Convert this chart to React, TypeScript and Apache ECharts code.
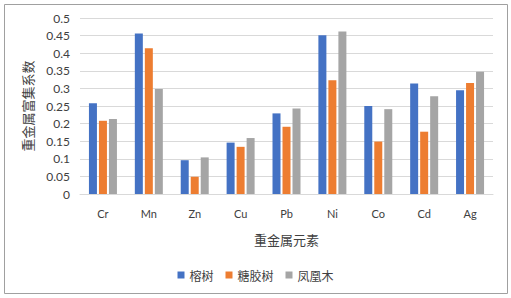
import React, { useEffect, useRef } from "react";
import * as echarts from "echarts";

const categories = ["Cr", "Mn", "Zn", "Cu", "Pb", "Ni", "Co", "Cd", "Ag"];
const seriesNames = ["榕树", "糖胶树", "凤凰木"];
const rongshu = [0.258, 0.456, 0.096, 0.146, 0.229, 0.451, 0.25, 0.314, 0.295];
const tangjiaoshu = [0.208, 0.414, 0.049, 0.134, 0.191, 0.323, 0.149, 0.177, 0.315];
const fenghuangmu = [0.213, 0.298, 0.104, 0.159, 0.243, 0.462, 0.241, 0.278, 0.347];
const colors = ["#4472C4", "#ED7D31", "#A5A5A5"];

export default function App() {
  const ref = useRef<HTMLDivElement>(null);
  useEffect(() => {
    if (!ref.current) return;
    const chart = echarts.init(ref.current, null, { renderer: "svg" });
    const data = [rongshu, tangjiaoshu, fenghuangmu];
    chart.setOption({
      animation: false,
      backgroundColor: "#ffffff",
      graphic: [
        {
          type: "rect",
          shape: { x: 4.5, y: 4.5, width: 503, height: 289 },
          style: { fill: "none", stroke: "#A0A0A0", lineWidth: 1 },
          silent: true,
        },
      ],
      grid: { left: 80, right: 18, top: 18, bottom: 104 },
      legend: {
        data: seriesNames,
        bottom: 12,
        left: "center",
        itemWidth: 7,
        itemHeight: 7,
        itemGap: 12,
        icon: "rect",
        textStyle: { fontFamily: "Noto Sans CJK SC", fontSize: 12, color: "#404040" },
      },
      xAxis: {
        type: "category",
        data: categories,
        name: "重金属元素",
        nameLocation: "middle",
        nameGap: 39,
        nameTextStyle: { fontFamily: "Noto Sans CJK SC", fontSize: 13, color: "#404040" },
        axisLine: { lineStyle: { color: "#D9D9D9" } },
        axisTick: { show: false },
        axisLabel: { margin: 14, fontFamily: "Lato", fontSize: 11, color: "#404040" },
      },
      yAxis: {
        type: "value",
        min: 0,
        max: 0.5,
        interval: 0.05,
        name: "重金属富集系数",
        nameLocation: "middle",
        nameRotate: 90,
        nameGap: 46,
        nameTextStyle: { fontFamily: "Noto Sans CJK SC", fontSize: 13, color: "#404040" },
        axisLine: { show: false },
        axisTick: { show: false },
        splitLine: { lineStyle: { color: "#D9D9D9" } },
        axisLabel: {
          margin: 10,
          fontFamily: "Lato",
          fontSize: 12,
          color: "#404040",
          formatter: (v: number) => String(parseFloat(v.toFixed(2))),
        },
      },
      series: seriesNames.map((name, i) => ({
        name,
        type: "bar",
        data: data[i],
        barWidth: 8,
        barGap: "25%",
        itemStyle: { color: colors[i] },
      })),
    });
    return () => chart.dispose();
  }, []);
  return (
    <div
      ref={ref}
      style={{ position: "fixed", left: 0, top: 0, width: 511, height: 298 }}
    />
  );
}
